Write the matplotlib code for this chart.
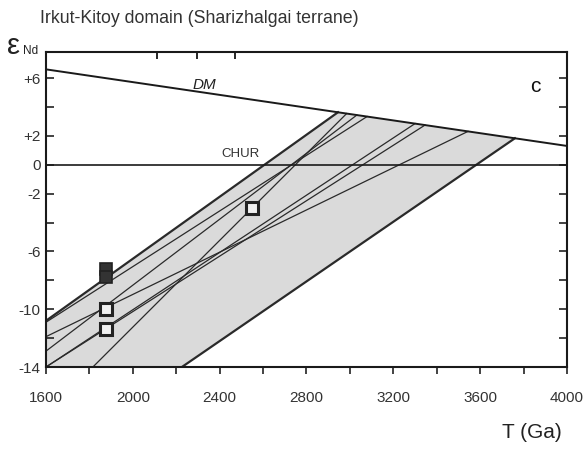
import numpy as np
import matplotlib
matplotlib.use("Agg")
import matplotlib.pyplot as plt

plt.rcParams['font.family'] = ['Liberation Sans', 'DejaVu Sans']

# DM evolution line (T in Ma, eps Nd)
dm_T = [1600, 4000]
dm_eps = [6.6, 1.3]

# Model evolution lines: lower-left start point and T(DM) where they meet DM
line_start_T = [1600, 1600, 1600, 1816, 1600, 1600, 1600, 2226]
line_start_eps = [-10.8, -10.9, -12.9, -14.0, -11.9, -14.0, -14.0, -14.0]
line_tdm = [2945, 3079, 3032, 2985, 3544, 3300, 3346, 3760]

# Samples
filled_T = [1875, 1875]
filled_eps = [-7.2, -7.8]
open_T = [1875, 1875, 2550]
open_eps = [-10.0, -11.4, -3.0]

xticks_major = [1600, 2000, 2400, 2800, 3200, 3600, 4000]
ytick_vals = [6, 4, 2, 0, -2, -4, -6, -8, -10, -12, -14]
ytick_labels = ['+6', '', '+2', '0', '-2', '', '-6', '', '-10', '', '-14']
top_ticks = [2110, 2295, 2470]


def dm_at(t):
    return np.interp(t, dm_T, dm_eps)


fig = plt.figure(figsize=(5.85, 4.5), dpi=100)
ax = fig.add_axes([0.0786, 0.1844, 0.8906, 0.70])

# Grey field bounded by the first and last model lines and DM
upper_end = line_tdm[0]
lower_end = line_tdm[-1]
dm_seg_T = np.linspace(upper_end, lower_end, 20)
poly_T = [line_start_T[0]] + list(dm_seg_T) + [line_start_T[-1], 1600]
poly_eps = [line_start_eps[0]] + list(dm_at(dm_seg_T)) + [line_start_eps[-1], -14]
ax.fill(poly_T, poly_eps, color='#dadada', zorder=1, lw=0)

# Model lines
for i, (t0, e0, tdm) in enumerate(zip(line_start_T, line_start_eps, line_tdm)):
    lw = 1.6 if i in (0, len(line_tdm) - 1) else 0.9
    ax.plot([t0, tdm], [e0, dm_at(tdm)], color='#2a2a2a', lw=lw, zorder=2)

# DM and CHUR
ax.plot(dm_T, dm_eps, color='#1a1a1a', lw=1.4, zorder=3)
ax.axhline(0, color='#1a1a1a', lw=1.2, zorder=3)

# Samples
ax.plot(filled_T, filled_eps, 's', ms=8, mfc='#333333', mec='#222222', mew=1.2, zorder=5, ls='none')
ax.plot(open_T, open_eps, 's', ms=8, mfc='#f0f0f0', mec='#222222', mew=2.2, zorder=5, ls='none')

ax.set_xlim(1600, 4000)
ax.set_ylim(-14, 7.8)

ax.set_xticks(xticks_major)
ax.set_xticks(np.arange(1600, 4001, 200), minor=True)
ax.set_yticks(ytick_vals)
ax.set_yticklabels(ytick_labels)

ax.tick_params(axis='x', which='both', direction='out', length=5, width=1.2,
               labelsize=11, colors='#222222', pad=12, top=False)
ax.tick_params(axis='y', which='both', direction='in', length=6, width=1.2,
               labelsize=11, colors='#222222', left=True, right=True, pad=4)
for lab in ax.get_xticklabels():
    lab.set_color('#333333')
for lab in ax.get_yticklabels():
    lab.set_color('#333333')

sec = ax.secondary_xaxis('top')
sec.set_xticks(top_ticks)
sec.set_xticklabels([])
sec.tick_params(direction='in', length=5, width=1.2)
sec.spines['top'].set_visible(False)

for s in ax.spines.values():
    s.set_linewidth(1.5)
    s.set_color('#1a1a1a')

# Labels
ax.text(2332, 5.5, 'DM', style='italic', fontsize=11, color='#222222', ha='center', va='center')
ax.text(2494, 0.75, 'CHUR', fontsize=9.5, color='#333333', ha='center', va='center')
ax.text(3852, 5.4, 'c', fontsize=15, color='#111111', ha='center', va='center')

fig.text(0.068, 0.958, 'Irkut-Kitoy domain (Sharizhalgai terrane)', fontsize=12.8,
         color='#333333', ha='left', va='center')
fig.text(0.012, 0.898, 'ε', fontsize=21, color='#222222', ha='left', va='center')
fig.text(0.040, 0.886, 'Nd', fontsize=8.5, color='#222222', ha='left', va='center')
fig.text(0.858, 0.04, 'T (Ga)', fontsize=15, color='#222222', ha='left', va='center')

fig.savefig('out.png', dpi=100)
